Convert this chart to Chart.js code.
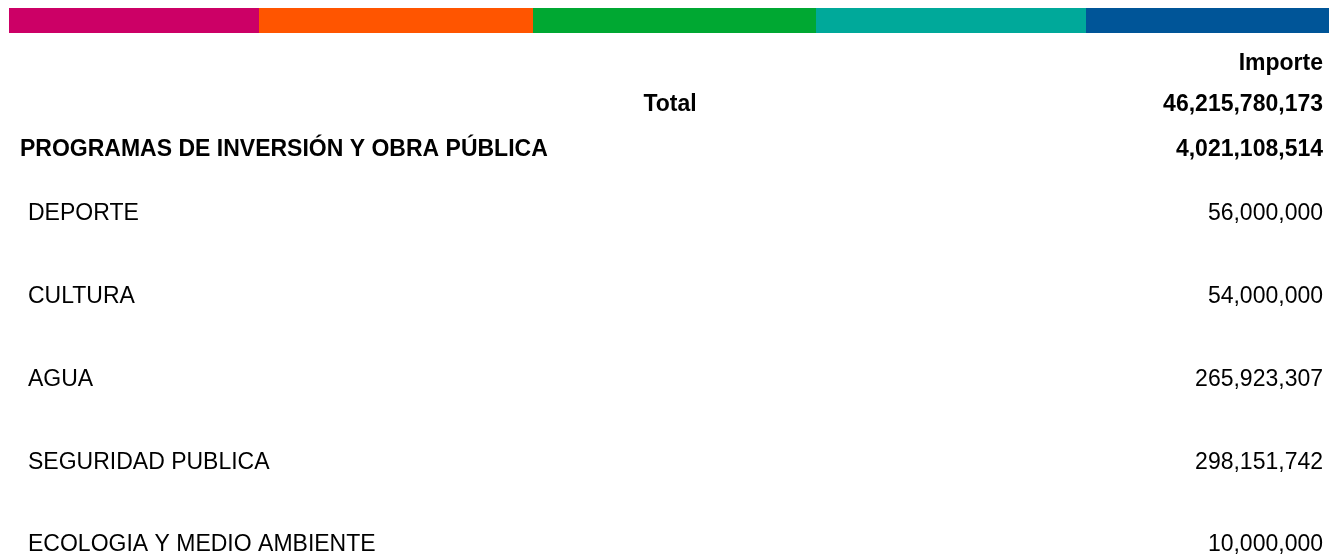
<!DOCTYPE html>
<html>
<head>
<meta charset="utf-8">
<script src="https://cdn.jsdelivr.net/npm/chart.js@4/dist/chart.umd.min.js"></script>
<style>
  html, body { margin: 0; padding: 0; background: #fff; }
  #wrap { width: 1335px; height: 560px; }
</style>
</head>
<body>
<div id="wrap"><canvas id="c" width="1335" height="560"></canvas></div>
<script>
// -- DATA -- //
const headerLabel = 'Importe'
const totalLabel = 'Total'
const totalAmount = 46215780173
const groupLabel = 'PROGRAMAS DE INVERSIÓN Y OBRA PÚBLICA'
const groupAmount = 4021108514
const programs = ['DEPORTE', 'CULTURA', 'AGUA', 'SEGURIDAD PUBLICA', 'ECOLOGIA Y MEDIO AMBIENTE']
const amounts = [56000000, 54000000, 265923307, 298151742, 10000000]

// colour strip at the top
const stripColors = ['#CC0066', '#FF5500', '#00A832', '#00A99A', '#005598']
const stripEdges = [9, 259, 533, 816, 1086, 1329]

const FONT = '"Liberation Sans", Arial, sans-serif'
const fmt = n => n.toLocaleString('en-US')

const tablePlugin = {
  id: 'tableText',
  afterDraw(chart) {
    const ctx = chart.ctx
    const right = 1323
    ctx.save()

    // strip
    stripColors.forEach((col, i) => {
      ctx.fillStyle = col
      ctx.fillRect(stripEdges[i], 8, stripEdges[i + 1] - stripEdges[i], 25)
    })

    ctx.fillStyle = '#000'
    ctx.textBaseline = 'middle'

    // header rows
    ctx.font = 'bold 23px ' + FONT
    ctx.textAlign = 'right'
    ctx.fillText(headerLabel, right, 64)
    ctx.fillText(fmt(totalAmount), right, 105)
    ctx.fillText(fmt(groupAmount), right, 150)
    ctx.textAlign = 'center'
    ctx.fillText(totalLabel, 670, 105)
    ctx.textAlign = 'left'
    ctx.fillText(groupLabel, 20, 150)

    // program rows, placed by the y scale
    const meta = chart.getDatasetMeta(0)
    ctx.font = '23px ' + FONT
    meta.data.forEach((bar, i) => {
      ctx.textAlign = 'left'
      ctx.fillText(programs[i], 28, bar.y)
      ctx.textAlign = 'right'
      ctx.fillText(fmt(amounts[i]), right, bar.y)
    })
    ctx.restore()
  }
}

new Chart(document.getElementById('c'), {
  type: 'bar',
  data: {
    labels: programs,
    datasets: [{
      data: amounts,
      backgroundColor: 'rgba(0,0,0,0)',
      borderWidth: 0
    }]
  },
  options: {
    responsive: false,
    animation: false,
    indexAxis: 'y',
    layout: { padding: { top: 214, bottom: 15, left: 0, right: 0 } },
    plugins: { legend: { display: false }, tooltip: { enabled: false } },
    scales: {
      x: { display: false, beginAtZero: true },
      y: { display: false, offset: false }
    }
  },
  plugins: [tablePlugin]
})
</script>
</body>
</html>
